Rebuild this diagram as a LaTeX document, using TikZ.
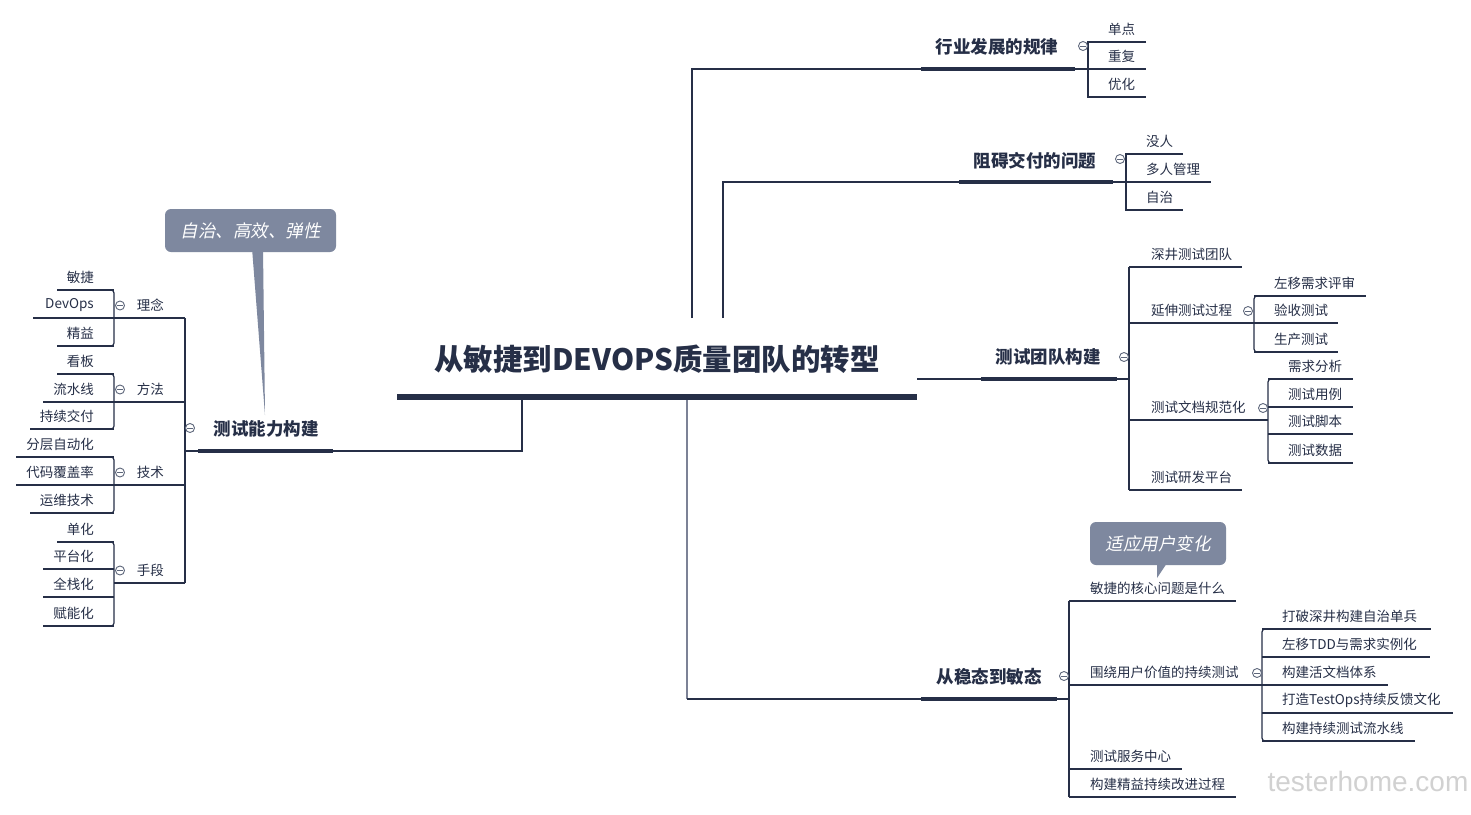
\documentclass[tikz,border=0pt]{standalone}
\usepackage{fontspec}
\setmainfont{Noto Sans CJK SC}
\newfontfamily\slantfont[FakeSlant=0.2]{Noto Sans CJK SC}
\newfontfamily\markfont{Liberation Sans}
\definecolor{navy}{HTML}{262F47}
\definecolor{bubble}{HTML}{7E889F}
\definecolor{foldgray}{HTML}{5E677B}
\definecolor{stem}{HTML}{7C8296}
\tikzset{
  link/.style={draw=navy, line width=1.2pt},
  topicbar/.style={draw=navy, line width=4.5pt},
  subbrace/.style={link, rounded corners=3pt},
  leaf/.style={text=navy, inner sep=0pt, font=\fontsize{13.5}{15}\selectfont},
  topic/.style={text=navy, inner sep=0pt, font=\bfseries\fontsize{17.5}{19}\selectfont},
  fold/.style={circle, draw=foldgray, fill=white, line width=0.9pt, minimum size=9pt, inner sep=0pt,
    path picture={\draw[foldgray, line width=0.8pt] ([xshift=-2.6pt]path picture bounding box.center) -- ([xshift=2.6pt]path picture bounding box.center);}},
  bubblebox/.style={fill=bubble, rounded corners=6pt, text=white, inner sep=0pt, font=\slantfont\fontsize{17.5}{19}\selectfont}
}
\begin{document}
\begin{tikzpicture}[x=1pt, y=-1pt]
\useasboundingbox[fill=white] (0,0) rectangle (1471,814);
% root
\node[text=navy, inner sep=0pt, font=\bfseries\fontsize{29.5}{31}\selectfont] (root) at (657,359) {从敏捷到DEVOPS质量团队的转型};
\coordinate (rootL) at (397,397); \coordinate (rootR) at (917,397);
\draw[topicbar, line width=6pt] (rootL) -- (rootR);
\coordinate (s1) at (692,318); \coordinate (s2) at (723,318); \coordinate (s3) at (917,379);
\coordinate (s4) at (687,400); \coordinate (s5) at (522,400);
% 行业发展的规律
\node[topic] (hy) at (997,47) {行业发展的规律};
\draw[link] (s1) |- (921,69) -- (1146,69);
\draw[topicbar] (921,69) -- (1075,69);
\draw[link] (1146,42) -- (1088,42) -- (1088,97) -- (1146,97);
\foreach \t/\ly [count=\i] in {单点/42, 重复/69, 优化/97}
  \node[leaf, anchor=west] (hy\i) at (1108,\ly-12.5) {\t};
% 阻碍交付的问题
\node[topic] (zz) at (1035,161) {阻碍交付的问题};
\draw[link] (s2) |- (959,182) -- (1211,182);
\draw[topicbar] (959,182) -- (1113,182);
\draw[link] (1183,154) -- (1126,154) -- (1126,210) -- (1183,210);
\foreach \t/\ly [count=\i] in {没人/154, 多人管理/182, 自治/210}
  \node[leaf, anchor=west] (zz\i) at (1146,\ly-12.5) {\t};
% 测试团队构建
\node[topic] (td) at (1048,357) {测试团队构建};
\draw[link] (s3) -- (1129,379);
\draw[topicbar] (981,379) -- (1117,379);
\draw[link] (1129,267) -- (1129,490);
\foreach \t/\ly/\ex [count=\i] in {深井测试团队/267/1242, 延伸测试过程/323/1254, 测试文档规范化/420/1268, 测试研发平台/490/1242} {
  \node[leaf, anchor=west] (td\i) at (1151,\ly-12.5) {\t};
  \draw[link] (1129,\ly) -- (\ex,\ly);
}
\draw[subbrace] (1262,296) -- (1254,296) -- (1254,352) -- (1262,352);
\foreach \t/\ly/\ex [count=\i] in {左移需求评审/296/1366, 验收测试/323/1338, 生产测试/352/1338} {
  \node[leaf, anchor=west] (ys\i) at (1274,\ly-12.5) {\t};
  \draw[link] (1254,\ly) -- (\ex,\ly);
}
\draw[subbrace] (1276,379) -- (1268,379) -- (1268,463) -- (1276,463);
\foreach \t/\ly [count=\i] in {需求分析/379, 测试用例/407, 测试脚本/434, 测试数据/463} {
  \node[leaf, anchor=west] (wd\i) at (1288,\ly-12.5) {\t};
  \draw[link] (1268,\ly) -- (1353,\ly);
}
% 从稳态到敏态
\node[topic] (wt) at (989,677) {从稳态到敏态};
\draw[link, draw=stem] (s4) -- (687,699);
\draw[link] (687,699) -- (1069,699);
\draw[topicbar] (921,699) -- (1057,699);
\draw[link] (1069,601) -- (1069,797);
\foreach \t/\ly/\ex [count=\i] in {敏捷的核心问题是什么/601/1236, 围绕用户价值的持续测试/685/1262, 测试服务中心/769/1182, 构建精益持续改进过程/797/1236} {
  \node[leaf, anchor=west] (wt\i) at (1090,\ly-12.5) {\t};
  \draw[link] (1069,\ly) -- (\ex,\ly);
}
\draw[subbrace] (1270,629) -- (1262,629) -- (1262,741) -- (1270,741);
\foreach \t/\ly/\ex [count=\i] in {打破深井构建自治单兵/629/1431, 左移TDD与需求实例化/657/1430, 构建活文档体系/685/1388, 打造TestOps持续反馈文化/713/1453, 构建持续测试流水线/741/1415} {
  \node[leaf, anchor=west] (yh\i) at (1282,\ly-12.5) {\t};
  \draw[link] (1262,\ly) -- (\ex,\ly);
}
\node[bubblebox, minimum width=136pt, minimum height=43pt] (yb) at (1158,543.5) {适应用户变化};
\fill[bubble] (1157,560) -- (1157,578) -- (1169,560) -- cycle;
% 测试能力构建
\node[topic] (nl) at (266,429) {测试能力构建};
\draw[link] (s5) |- (185,451);
\draw[topicbar] (198,451) -- (333,451);
\draw[link] (185,318) -- (185,583);
\foreach \t/\ly/\sx [count=\i] in {理念/318/33, 方法/402/43, 技术/485/16, 手段/583/114} {
  \node[leaf, anchor=east] (nl\i) at (164,\ly-12.5) {\t};
  \draw[link] (185,\ly) -- (\sx,\ly);
  \node[fold] (nf\i) at (120,\ly-12.5) {};
}
\foreach \ya/\yb in {290/346, 374/429, 457/513, 542/626}
  \draw[subbrace] (106,\ya) -- (114,\ya) -- (114,\yb) -- (106,\yb);
\foreach \t/\ly/\sx [count=\i] in {敏捷/290/57, DevOps/318/33, 精益/346/57, 看板/374/57, 流水线/402/43, 持续交付/429/30, 分层自动化/457/16, 代码覆盖率/485/16, 运维技术/513/30, 单化/542/57, 平台化/569/43, 全栈化/597/43, 赋能化/626/43} {
  \node[leaf, anchor=east] (lf\i) at (94,\ly-12.5) {\t};
  \draw[link] (114,\ly) -- (\sx,\ly);
}
\node[bubblebox, minimum width=171pt, minimum height=43pt] (nb) at (250.5,230.5) {自治、高效、弹性};
\fill[bubble] (252,248) -- (263,248) -- (265,415) -- cycle;
% fold marks
\foreach \p in {(1083,46), (1120,159), (1124,357), (1248,311), (1263,408), (1064,676), (1257,673), (190,428)}
  \node[fold] at \p {};
% watermark
\node[text=black!18, inner sep=0pt, font=\markfont\fontsize{28}{30}\selectfont] (wm) at (1368,781) {testerhome.com};
\end{tikzpicture}
\end{document}
